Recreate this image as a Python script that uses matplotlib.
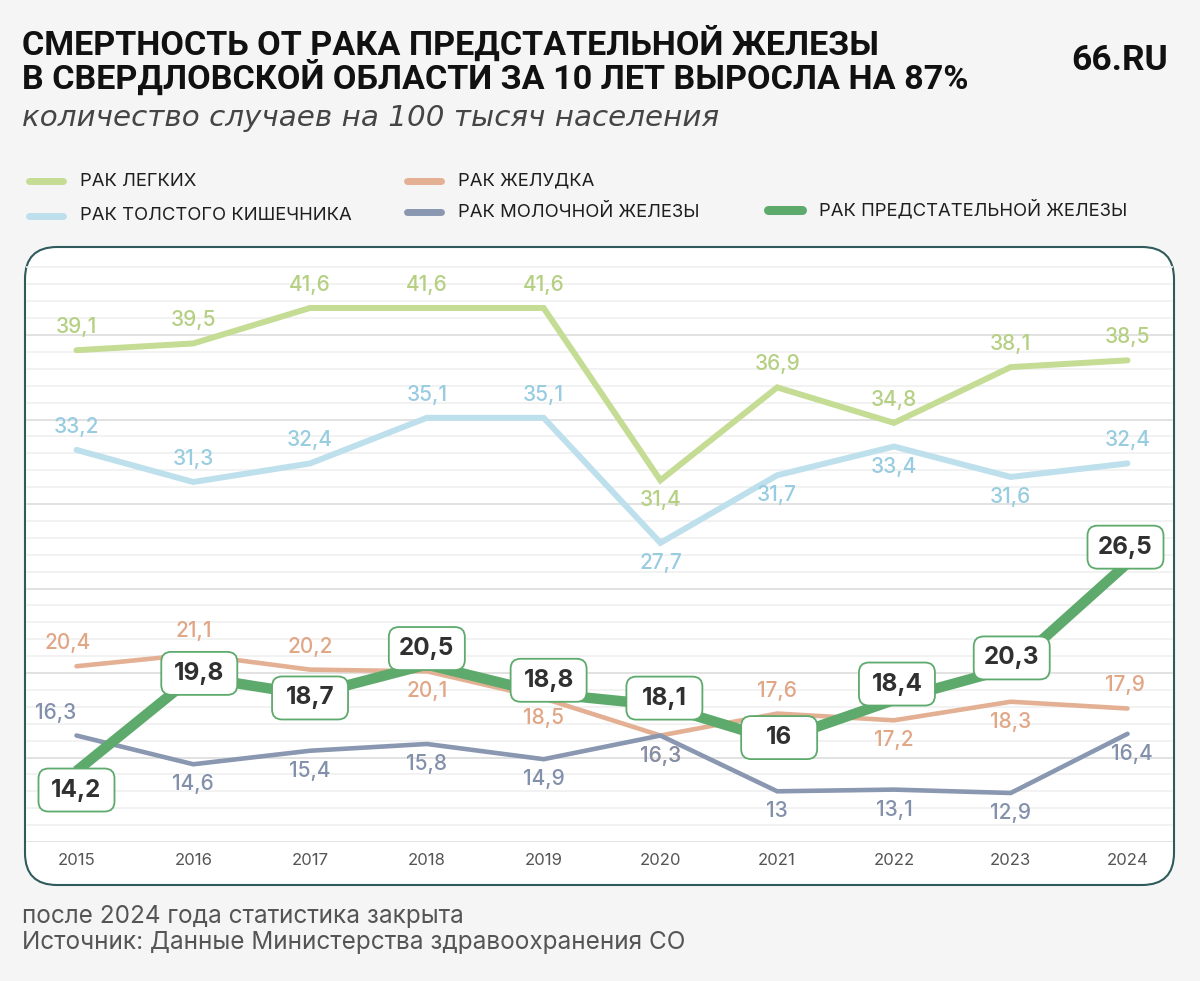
import matplotlib
matplotlib.use("Agg")
import matplotlib.pyplot as plt
from matplotlib.patches import FancyBboxPatch
from matplotlib.lines import Line2D
from matplotlib.transforms import ScaledTranslation

# ---------------- data ----------------
years = [2015, 2016, 2017, 2018, 2019, 2020, 2021, 2022, 2023, 2024]
lung = [39.1, 39.5, 41.6, 41.6, 41.6, 31.4, 36.9, 34.8, 38.1, 38.5]
colon = [33.2, 31.3, 32.4, 35.1, 35.1, 27.7, 31.7, 33.4, 31.6, 32.4]
stomach = [20.4, 21.1, 20.2, 20.1, 18.5, 16.3, 17.6, 17.2, 18.3, 17.9]
breast = [16.3, 14.6, 15.4, 15.8, 14.9, 16.3, 13.0, 13.1, 12.9, 16.4]
prostate = [14.2, 19.8, 18.7, 20.5, 18.8, 18.1, 16.0, 18.4, 20.3, 26.5]

names = ["РАК ЛЕГКИХ", "РАК ТОЛСТОГО КИШЕЧНИКА", "РАК ЖЕЛУДКА",
         "РАК МОЛОЧНОЙ ЖЕЛЕЗЫ", "РАК ПРЕДСТАТЕЛЬНОЙ ЖЕЛЕЗЫ"]
title = "СМЕРТНОСТЬ ОТ РАКА ПРЕДСТАТЕЛЬНОЙ ЖЕЛЕЗЫ\nВ СВЕРДЛОВСКОЙ ОБЛАСТИ ЗА 10 ЛЕТ ВЫРОСЛА НА 87%"
subtitle = "количество случаев на 100 тысяч населения"
brand = "66.RU"
note1 = "после 2024 года статистика закрыта"
note2 = "Источник: Данные Министерства здравоохранения СО"

# ---------------- styles ----------------
BG = "#f5f5f5"
C_LUNG, C_LUNG_T = "#c5dc94", "#b5d083"
C_COLON, C_COLON_T = "#bde0ec", "#98cce0"
C_STOM, C_STOM_T = "#e4b094", "#e0a686"
C_BREAST, C_BREAST_T = "#8a97b1", "#8290ab"
C_PROS = "#5eaa6c"

# label placement (+1 above, -1 below) and x shifts in px
pos_lung = [1, 1, 1, 1, 1, -1, 1, 1, 1, 1]
pos_colon = [1, 1, 1, 1, 1, -1, -1, -1, -1, 1]
pos_stom = [1, 1, 1, -1, -1, -1, 1, -1, -1, 1]
pos_breast = [1, -1, -1, -1, -1, -1, -1, -1, -1, -1]
dx_breast = [-21, 0, 0, 0, 0, 0, 0, 0, 0, 4]
dx_stom = [-9, 0, 0, 0, 0, 0, 0, 0, 0, -3]
# prostate boxes offset (px) from point
pros_dy = [-19, 3, -3, 16, 13, 7, 3, 16, 10, 16]
pros_dx = [0, 6, 0, 0, 5, 4, 2, 3, 1, -2]

W, H = 1200, 981
fig = plt.figure(figsize=(W / 100, H / 100), dpi=100, facecolor=BG)

def fx(px):
    return px / W

def fy(py):
    return 1 - py / H

# rounded white panel
panel = FancyBboxPatch((25 / 100, (H - 885) / 100), (1174 - 25) / 100, (885 - 247) / 100,
                       boxstyle="round,pad=0,rounding_size=0.32",
                       transform=fig.dpi_scale_trans, facecolor="white",
                       edgecolor="#2f5b5c", linewidth=1.5, zorder=-5)
fig.patches.append(panel)

ax_bottom_px, ax_top_px = 842, 250.5
ax = fig.add_axes([fx(26), fy(ax_bottom_px), fx(1173 - 26), (ax_bottom_px - ax_top_px) / H])
ax.set_zorder(2)
ax.set_facecolor("none")
ax.set_ylim(10, 45)
xspan = (1127.5 - 76.5) / 9
ax.set_xlim(2015 - (76.5 - 26) / xspan, 2024 + (1173 - 1127.5) / xspan)
for s in ax.spines.values():
    s.set_visible(False)

# grid lines
for v in range(10, 45):
    col = "#e2e2e2" if v % 5 == 0 else "#f0f0f0"
    lw = 1.4 if v % 5 == 0 else 1.2
    ax.axhline(v, color=col, lw=lw, zorder=1)

ax.set_yticks([])
ax.set_xticks(years)
ax.set_xticklabels([str(y) for y in years], family="Inter", fontsize=12, color="#555555")
ax.tick_params(axis="x", length=0, pad=8)

ax.plot(years, lung, color=C_LUNG, lw=4.3, solid_capstyle="round", solid_joinstyle="miter", zorder=3)
ax.plot(years, colon, color=C_COLON, lw=4.3, solid_capstyle="round", solid_joinstyle="miter", zorder=3)
ax.plot(years, stomach, color=C_STOM, lw=3.3, solid_capstyle="round", solid_joinstyle="miter", zorder=3)
ax.plot(years, breast, color=C_BREAST, lw=3.3, solid_capstyle="round", solid_joinstyle="miter", zorder=3)
ax.plot(years, prostate, color=C_PROS, lw=7.5, solid_capstyle="butt", solid_joinstyle="miter", zorder=4)

def label_series(vals, pos, color, dxs=None):
    for i, (x, v) in enumerate(zip(years, vals)):
        dy = 23 if pos[i] > 0 else -20
        dx = dxs[i] if dxs else 0
        txt = f"{v:g}".replace(".", ",")
        ax.annotate(txt, (x, v), xytext=(dx * 0.72, dy * 0.72), textcoords="offset points",
                    ha="center", va="center", family="Inter", fontsize=15,
                    fontweight="medium", color=color, zorder=5)

label_series(lung, pos_lung, C_LUNG_T)
label_series(colon, pos_colon, C_COLON_T)
label_series(stomach, pos_stom, C_STOM_T, dx_stom)
label_series(breast, pos_breast, C_BREAST_T, dx_breast)

# prostate boxed labels (fixed size boxes)
bw, bh = 0.76, 0.43
for i, (x, v) in enumerate(zip(years, prostate)):
    ox, oy = pros_dx[i] / 100, pros_dy[i] / 100
    tr = fig.dpi_scale_trans + ScaledTranslation(x, v, ax.transData)
    box = FancyBboxPatch((ox - bw / 2, oy - bh / 2), bw, bh,
                         boxstyle="round,pad=0,rounding_size=0.1", transform=tr,
                         facecolor="white", edgecolor=C_PROS, linewidth=1.3, zorder=6,
                         clip_on=False)
    ax.add_patch(box)
    txt = f"{v:g}".replace(".", ",")
    ax.text(ox, oy, txt, transform=tr, ha="center", va="center", family="Inter",
            fontsize=17.5, fontweight="bold", color="#303030", zorder=7)

# ---------------- header ----------------
fig.text(fx(22), fy(44), title.split("\n")[0], ha="left", va="center", family="Roboto",
         fontweight="bold", fontsize=24.6, color="#111111")
fig.text(fx(22), fy(78), title.split("\n")[1], ha="left", va="center", family="Roboto",
         fontweight="bold", fontsize=24.6, color="#111111")
fig.text(fx(1168), fy(60), brand, ha="right", va="center", family="Roboto", fontweight="bold",
         fontsize=25.5, color="#111111")
fig.text(fx(22), fy(118), subtitle, ha="left", va="center", family="DejaVu Sans",
         style="oblique", fontsize=21.2, color="#454545")

# legend
leg = [(26, 181, C_LUNG, 5, names[0]), (26, 216, C_COLON, 5, names[1]),
       (404, 181, C_STOM, 5, names[2]), (404, 212, C_BREAST, 5, names[3]),
       (765, 210, C_PROS, 6.5, names[4])]
for x0, y0, c, lw, t in leg:
    fig.add_artist(Line2D([fx(x0 + 3), fx(x0 + 37)], [fy(y0), fy(y0)], color=c, lw=lw,
                          solid_capstyle="round", transform=fig.transFigure))
    fig.text(fx(x0 + 54), fy(y0), t, ha="left", va="center", family="Inter",
             fontsize=13.3, color="#1e1e1e")

fig.text(fx(22), fy(916), note1, ha="left", va="center", family="Inter", fontsize=17.5,
         color="#555555")
fig.text(fx(22), fy(942), note2, ha="left", va="center", family="Inter", fontsize=17.5,
         color="#555555")

fig.savefig("out.png", dpi=100, facecolor=BG)
